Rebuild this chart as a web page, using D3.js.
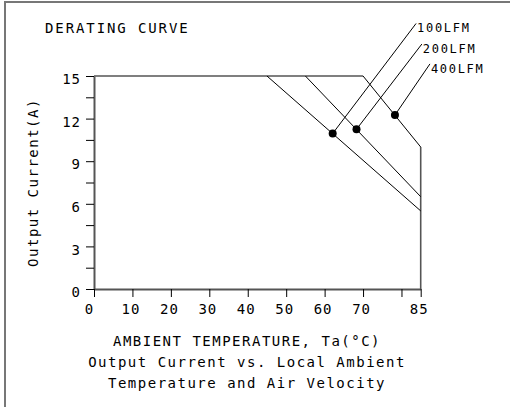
<!DOCTYPE html>
<html>
<head>
<meta charset="utf-8">
<script src="https://cdn.jsdelivr.net/npm/d3@7"></script>
<style>
  body { margin: 0; background: #fff; }
  svg text { font-family: "DejaVu Sans Mono", monospace; fill: #000; }
</style>
</head>
<body>
<svg id="chart" width="510" height="407"></svg>
<script>
// derating data
const series = ["100LFM", "200LFM", "400LFM"];
const curveTemps = [[45, 85], [55, 85], [70, 85]];
const curveAmps = [[15, 5.5], [15, 6.5], [15, 10]];
const markTemps = [62.1, 68.3, 78.3];
const markAmps = [10.95, 11.25, 12.25];
const leaderTemps = [83.8, 85.3, 87.4];
const leaderAmps = [18.7, 17.25, 15.85];
const xTicks = [0, 10, 20, 30, 40, 50, 60, 70, 80, 85];
const xTickLabels = ["0", "10", "20", "30", "40", "50", "60", "70", "", "85"];
const yTicks = [0, 1.5, 3, 4.5, 6, 7.5, 9, 10.5, 12, 13.5, 15];
const yTickLabels = ["0", "", "3", "", "6", "", "9", "", "12", "", "15"];
const frameTemps = [0, 70];
const rightEdgeAmps = [0, 10];

const svg = d3.select("#chart");

const x = d3.scaleLinear().domain([0, 85]).range([94, 420.7]);
const y = d3.scaleLinear().domain([0, 15]).range([289, 76]);

// outer frame (left + top only)
svg.append("path")
  .attr("d", "M5,407 V2 H510")
  .attr("fill", "none")
  .attr("stroke", "#777")
  .attr("stroke-width", 2);

// axes
const yAxis = svg.append("g")
  .attr("transform", `translate(${x(0)},0)`)
  .call(d3.axisLeft(y).tickValues(yTicks).tickSize(8).tickSizeOuter(0)
    .tickFormat((d, i) => yTickLabels[i]));

const xAxis = svg.append("g")
  .attr("transform", `translate(0,${y(0)})`)
  .call(d3.axisBottom(x).tickValues(xTicks).tickSize(8).tickSizeOuter(0)
    .tickFormat((d, i) => xTickLabels[i]));

[xAxis, yAxis].forEach(a => {
  a.select(".domain").attr("stroke", "#555").attr("stroke-width", 2);
  a.selectAll(".tick line").attr("stroke", "#000").attr("stroke-width", 1);
  a.selectAll(".tick text")
    .style("font-family", "DejaVu Sans Mono")
    .style("font-size", "14px")
    .style("letter-spacing", "1px")
    .attr("fill", "#000");
});
yAxis.selectAll(".tick text").attr("x", -13).attr("dy", "0.55em");
xAxis.selectAll(".tick text").attr("y", 15).attr("dx", "-2");
xAxis.selectAll(".tick text").filter(d => d === 0).attr("dx", "-5");

// top limit at 15A and right edge at 85C
const line = d3.line().x(d => x(d[0])).y(d => y(d[1]));
svg.append("path")
  .attr("d", line(frameTemps.map(t => [t, 15])))
  .attr("fill", "none").attr("stroke", "#555").attr("stroke-width", 1.6);
svg.append("path")
  .attr("d", line(rightEdgeAmps.map(a => [85, a])))
  .attr("fill", "none").attr("stroke", "#555").attr("stroke-width", 1.6);

// derating curves
series.forEach((s, i) => {
  const pts = curveTemps[i].map((t, j) => [t, curveAmps[i][j]]);
  svg.append("path")
    .attr("d", line(pts))
    .attr("fill", "none").attr("stroke", "#000").attr("stroke-width", 1);

  svg.append("path")
    .attr("d", line([[markTemps[i], markAmps[i]], [leaderTemps[i], leaderAmps[i]]]))
    .attr("fill", "none").attr("stroke", "#000").attr("stroke-width", 1);

  svg.append("circle")
    .attr("cx", x(markTemps[i]))
    .attr("cy", y(markAmps[i]))
    .attr("r", 4)
    .attr("fill", "#000");

  svg.append("text")
    .attr("x", x(leaderTemps[i]) + 1)
    .attr("y", y(leaderAmps[i]) + 9)
    .style("font-size", "12px")
    .style("letter-spacing", "1.7px")
    .text(s);
});

// titles
svg.append("text")
  .attr("x", 45).attr("y", 33)
  .style("font-size", "14px")
  .style("letter-spacing", "1.9px")
  .text("DERATING CURVE");

svg.append("text")
  .attr("transform", `translate(38,${(y(0) + y(15)) / 2}) rotate(-90)`)
  .attr("text-anchor", "middle")
  .style("font-size", "14px")
  .style("letter-spacing", "1.5px")
  .text("Output Current(A)");

const footer = ["AMBIENT TEMPERATURE, Ta(°C)", "Output Current vs. Local Ambient", "Temperature and Air Velocity"];
footer.forEach((t, i) => {
  svg.append("text")
    .attr("x", 247).attr("y", 346 + i * 21)
    .attr("text-anchor", "middle")
    .style("font-size", "14px")
    .style("letter-spacing", "1.5px")
    .text(t);
});
</script>
</body>
</html>
